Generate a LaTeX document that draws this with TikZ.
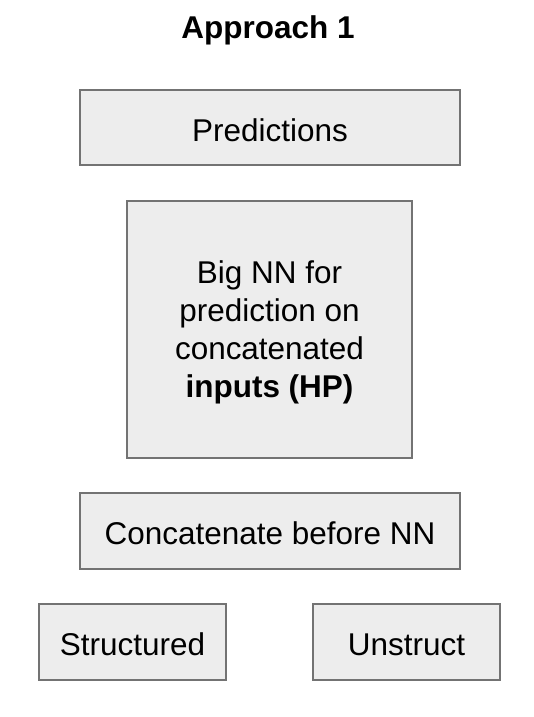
\documentclass[tikz,border=0pt]{standalone}
\usepackage{fontspec}
\setmainfont{Liberation Sans}
\tikzset{
  box/.style={draw=black!55, fill=black!7, line width=1.1pt, inner sep=0pt, align=center,
    font=\fontsize{23.6pt}{28.6pt}\selectfont},
  oneline/.style={text height=20.5pt, text depth=0pt},
}
\begin{document}
\begin{tikzpicture}[x=0.75pt,y=-0.75pt]
\useasboundingbox (0,0) rectangle (533,717);
\node[font=\fontsize{23.6pt}{28.6pt}\selectfont\bfseries] (title) at (268,30) {Approach 1};
\node[box, oneline, minimum width=380*0.75pt, minimum height=75*0.75pt] (pred) at (270,127.5) {Predictions};
\node[box, text depth=1pt, minimum width=285*0.75pt, minimum height=257*0.75pt] (nn) at (269.5,329.5)
  {Big NN for\\prediction on\\concatenated\\\textbf{inputs (HP)}};
\node[box, oneline, minimum width=380*0.75pt, minimum height=76*0.75pt] (cat) at (270,531) {Concatenate before NN};
\node[box, oneline, minimum width=187*0.75pt, minimum height=76*0.75pt] (struct) at (132.5,642) {Structured};
\node[box, oneline, minimum width=187*0.75pt, minimum height=76*0.75pt] (unstruct) at (406.5,642) {Unstruct};
\end{tikzpicture}
\end{document}
